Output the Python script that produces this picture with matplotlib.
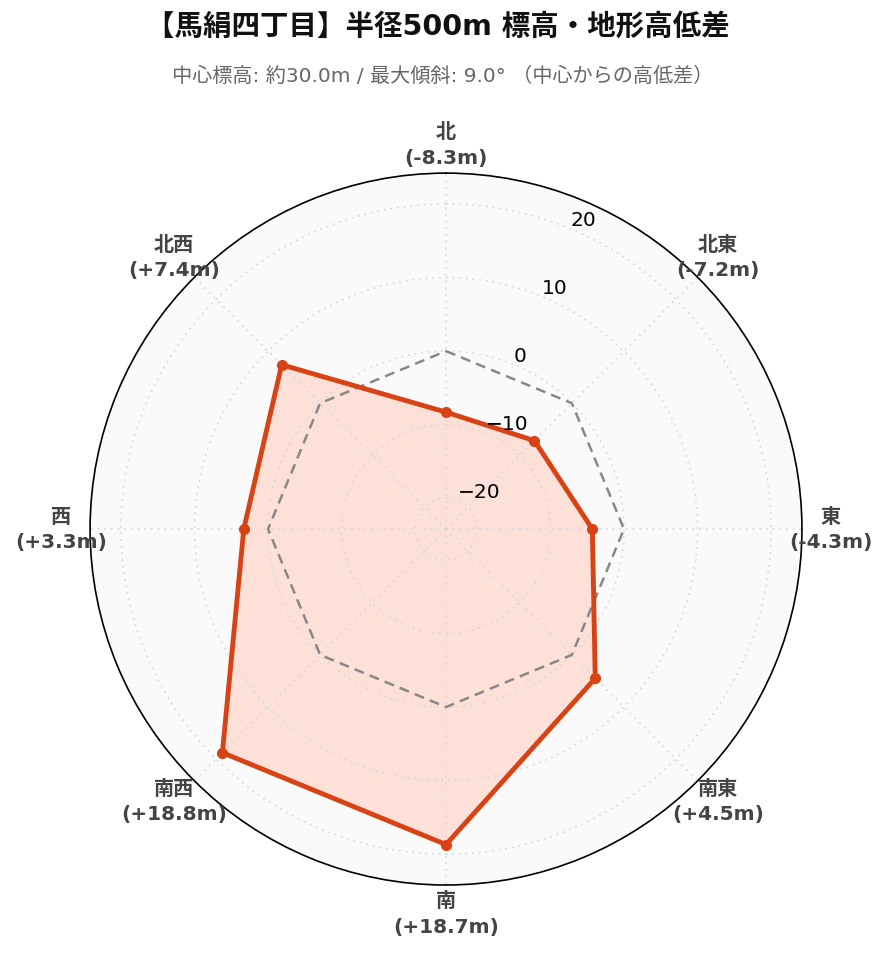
import numpy as np
import matplotlib
matplotlib.use("Agg")
import matplotlib.pyplot as plt

plt.rcParams['font.family'] = ['DejaVu Sans', 'Noto Sans CJK JP']

# data
directions = ['北', '北東', '東', '南東', '南', '南西', '西', '北西']
diffs = [-8.3, -7.2, -4.3, 4.5, 18.7, 18.8, 3.3, 7.4]
r_ticks = [-20, -10, 0, 10, 20]
r_tick_labels = ['−20', '−10', '0', '10', '20']
title = '【馬絹四丁目】半径500m 標高・地形高低差'
subtitle = '中心標高: 約30.0m / 最大傾斜: 9.0° （中心からの高低差）'

r_lim = 24.2
line_color = '#d84315'

theta = np.deg2rad(np.arange(len(directions)) * 45.0)
theta_c = np.append(theta, theta[0])
vals_c = np.append(diffs, diffs[0])
zero_c = np.zeros_like(theta_c)

fig = plt.figure(figsize=(8.89, 9.62), dpi=100)
ax = fig.add_axes([0.1012, 0.079, 0.801, 0.740], projection='polar')
ax.set_theta_zero_location('N')
ax.set_theta_direction(-1)
ax.set_facecolor('#fafafa')
ax.set_ylim(-r_lim, r_lim)

# grid (drawn above the fill, like the original)
ax.set_axisbelow('line')
ax.set_xticks(theta)
ax.set_xticklabels([])
ax.set_yticks(r_ticks)
ax.set_yticklabels([])
ax.grid(True, color='#d3d8dc', linestyle=(0, (1, 3)), linewidth=1.2)
ax.spines['polar'].set_color('black')
ax.spines['polar'].set_linewidth(1.2)
ax.tick_params(length=0)

# data polygon fill
ax.fill(theta_c, vals_c, color='#fde0d8', linewidth=0, zorder=1)

# zero reference
ax.plot(theta_c, zero_c, color='#888888', linestyle=(0, (4, 2.5)), linewidth=1.8, zorder=3)

ax.plot(theta_c, vals_c, color=line_color, linewidth=3.5, zorder=4)
ax.plot(theta, diffs, 'o', color=line_color, markersize=7, zorder=5)

# radial tick labels
for r, lab in zip(r_ticks, r_tick_labels):
    ax.text(np.deg2rad(22.5), r, lab, ha='left', va='bottom', fontsize=14.5,
            color='black', zorder=6)

# direction labels
r_lab = r_lim + 3.9
for t, name, d in zip(theta, directions, diffs):
    ax.text(t, r_lab, f'{name}\n({d:+.1f}m)', ha='center', va='center',
            fontsize=14.5, fontweight='bold', color='#444444', linespacing=1.45)

fig.text(0.492, 0.972, title, ha='center', va='center', fontsize=20.5,
         fontweight='bold', color='#111111')
fig.text(0.498, 0.921, subtitle, ha='center', va='center', fontsize=14.5,
         color='#666666')

fig.savefig('out.png', dpi=100, facecolor='white')
